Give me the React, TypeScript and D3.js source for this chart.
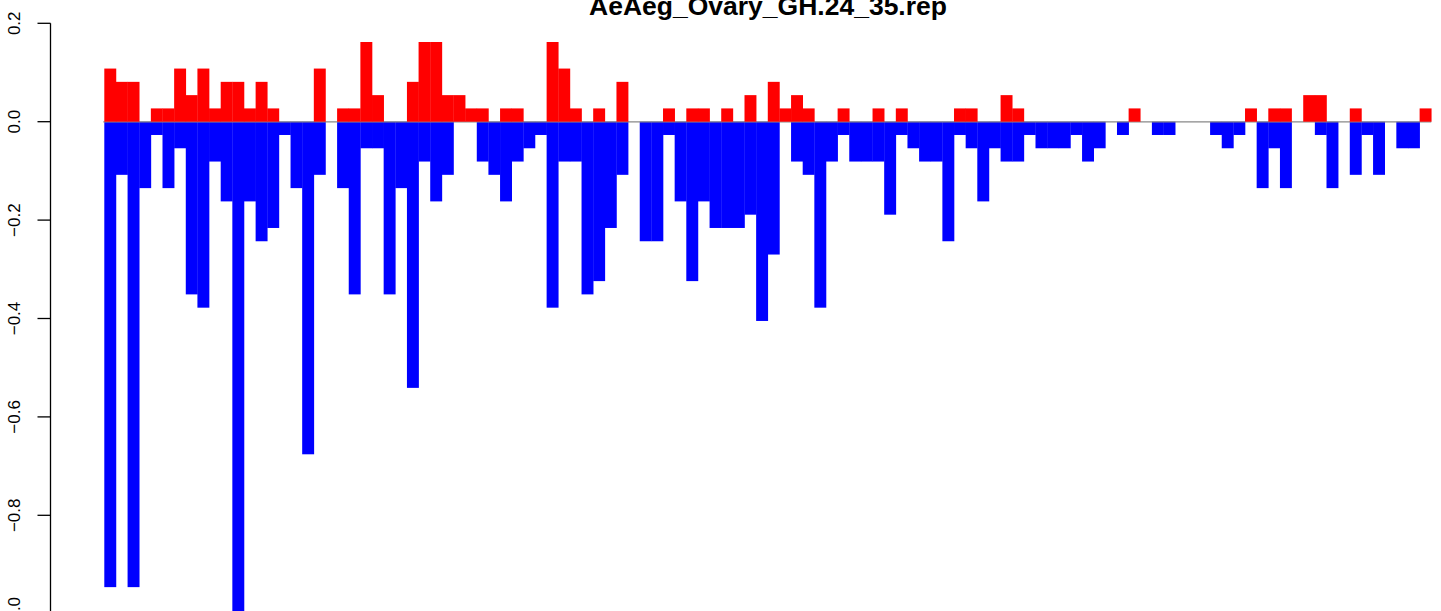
import React from "react";
import * as d3 from "d3";

const title = "AeAeg_Ovary_GH.24_35.rep";

// upper (red) series, one value per bin
const upValues: number[] = [
  0.108, 0.081, 0.081, 0, 0.027, 0.027, 0.108, 0.054, 0.108, 0.027,
  0.081, 0.081, 0.027, 0.081, 0.027, 0, 0, 0, 0.108, 0,
  0.027, 0.027, 0.162, 0.054, 0, 0, 0.081, 0.162, 0.162, 0.054,
  0.054, 0.027, 0.027, 0, 0.027, 0.027, 0, 0, 0.162, 0.108,
  0.027, 0, 0.027, 0, 0.081, 0, 0, 0, 0.027, 0,
  0.027, 0.027, 0, 0.027, 0, 0.054, 0, 0.081, 0.027, 0.054,
  0.027, 0, 0, 0.027, 0, 0, 0.027, 0, 0.027, 0,
  0, 0, 0, 0.027, 0.027, 0, 0, 0.054, 0.027, 0,
  0, 0, 0, 0, 0, 0, 0, 0, 0.027, 0,
  0, 0, 0, 0, 0, 0, 0, 0, 0.027, 0,
  0.027, 0.027, 0, 0.054, 0.054, 0, 0, 0.027, 0, 0,
  0, 0, 0, 0.027,
];

// lower (blue) series, one value per bin
const downValues: number[] = [
  -0.946, -0.108, -0.946, -0.135, -0.027, -0.135, -0.054, -0.351, -0.378, -0.081,
  -0.162, -1.0, -0.162, -0.243, -0.216, -0.027, -0.135, -0.676, -0.108, 0,
  -0.135, -0.351, -0.054, -0.054, -0.351, -0.135, -0.541, -0.081, -0.162, -0.108,
  0, 0, -0.081, -0.108, -0.162, -0.081, -0.054, -0.027, -0.378, -0.081,
  -0.081, -0.351, -0.324, -0.216, -0.108, 0, -0.243, -0.243, -0.027, -0.162,
  -0.324, -0.162, -0.216, -0.216, -0.216, -0.189, -0.405, -0.27, 0, -0.081,
  -0.108, -0.378, -0.081, -0.027, -0.081, -0.081, -0.081, -0.189, -0.027, -0.054,
  -0.081, -0.081, -0.243, -0.027, -0.054, -0.162, -0.054, -0.081, -0.081, -0.027,
  -0.054, -0.054, -0.054, -0.027, -0.081, -0.054, 0, -0.027, 0, 0,
  -0.027, -0.027, 0, 0, 0, -0.027, -0.054, -0.027, 0, -0.135,
  -0.054, -0.135, 0, 0, -0.027, -0.135, 0, -0.108, -0.027, -0.108,
  0, -0.054, -0.054, 0,
];

const categories: number[] = upValues.map((_, i) => i);

const yTicks: number[] = [0.2, 0.0, -0.2, -0.4, -0.6, -0.8, -1.0];
const yTickLabels: string[] = ["0.2", "0.0", "\u22120.2", "\u22120.4", "\u22120.6", "\u22120.8", "\u22121.0"];

const W = 1441;
const H = 611;

export default function App() {
  const barW = 11.64;
  const x0 = 104.3;
  const x = d3
    .scaleBand<number>()
    .domain(categories)
    .range([x0, x0 + barW * categories.length])
    .padding(0);
  const y = d3.scaleLinear().domain([-1, 0.2]).range([121.7 + 492, 121.7 - 0.2 * 492]);
  const axisX = 50.5;
  const font = "'Liberation Sans', Arial, Helvetica, sans-serif";

  return (
    <svg
      width={W}
      height={H}
      style={{ position: "absolute", left: 0, top: 0, background: "#fff" }}
      xmlns="http://www.w3.org/2000/svg"
    >
      <rect x={0} y={0} width={W} height={H} fill="#fff" />
      {/* blue bars */}
      <g>
        {categories.map((c, i) =>
          downValues[i] < 0 ? (
            <rect
              key={"d" + i}
              x={x(c)!}
              y={y(0)}
              width={x.bandwidth() + 0.3}
              height={y(downValues[i]) - y(0)}
              fill="#0000FF"
            />
          ) : null
        )}
      </g>
      {/* zero line */}
      <line
        x1={x(categories[0])! - 1}
        x2={x(categories[categories.length - 1])! + x.bandwidth()}
        y1={y(0) + 0.2}
        y2={y(0) + 0.2}
        stroke="#888"
        strokeWidth={1.3}
      />
      {/* red bars */}
      <g>
        {categories.map((c, i) =>
          upValues[i] > 0 ? (
            <rect
              key={"u" + i}
              x={x(c)!}
              y={y(upValues[i])}
              width={x.bandwidth() + 0.3}
              height={y(0) - y(upValues[i])}
              fill="#FF0000"
            />
          ) : null
        )}
      </g>
      {/* y axis */}
      <g>
        <line
          x1={axisX}
          x2={axisX}
          y1={y(yTicks[0])}
          y2={y(yTicks[yTicks.length - 1])}
          stroke="#000"
          strokeWidth={1.3}
        />
        {yTicks.map((t, i) => (
          <g key={"t" + i}>
            <line x1={axisX - 13} x2={axisX} y1={y(t)} y2={y(t)} stroke="#000" strokeWidth={1.3} />
            <text
              transform={`translate(19.5,${y(t)}) rotate(-90)`}
              textAnchor="middle"
              fontFamily={font}
              fontSize={17}
              fill="#000"
            >
              {yTickLabels[i]}
            </text>
          </g>
        ))}
      </g>
      {/* title */}
      <text
        x={768}
        y={15}
        textAnchor="middle"
        fontFamily={font}
        fontWeight="bold"
        fontSize={26.5}
        fill="#000"
      >
        {title}
      </text>
    </svg>
  );
}
